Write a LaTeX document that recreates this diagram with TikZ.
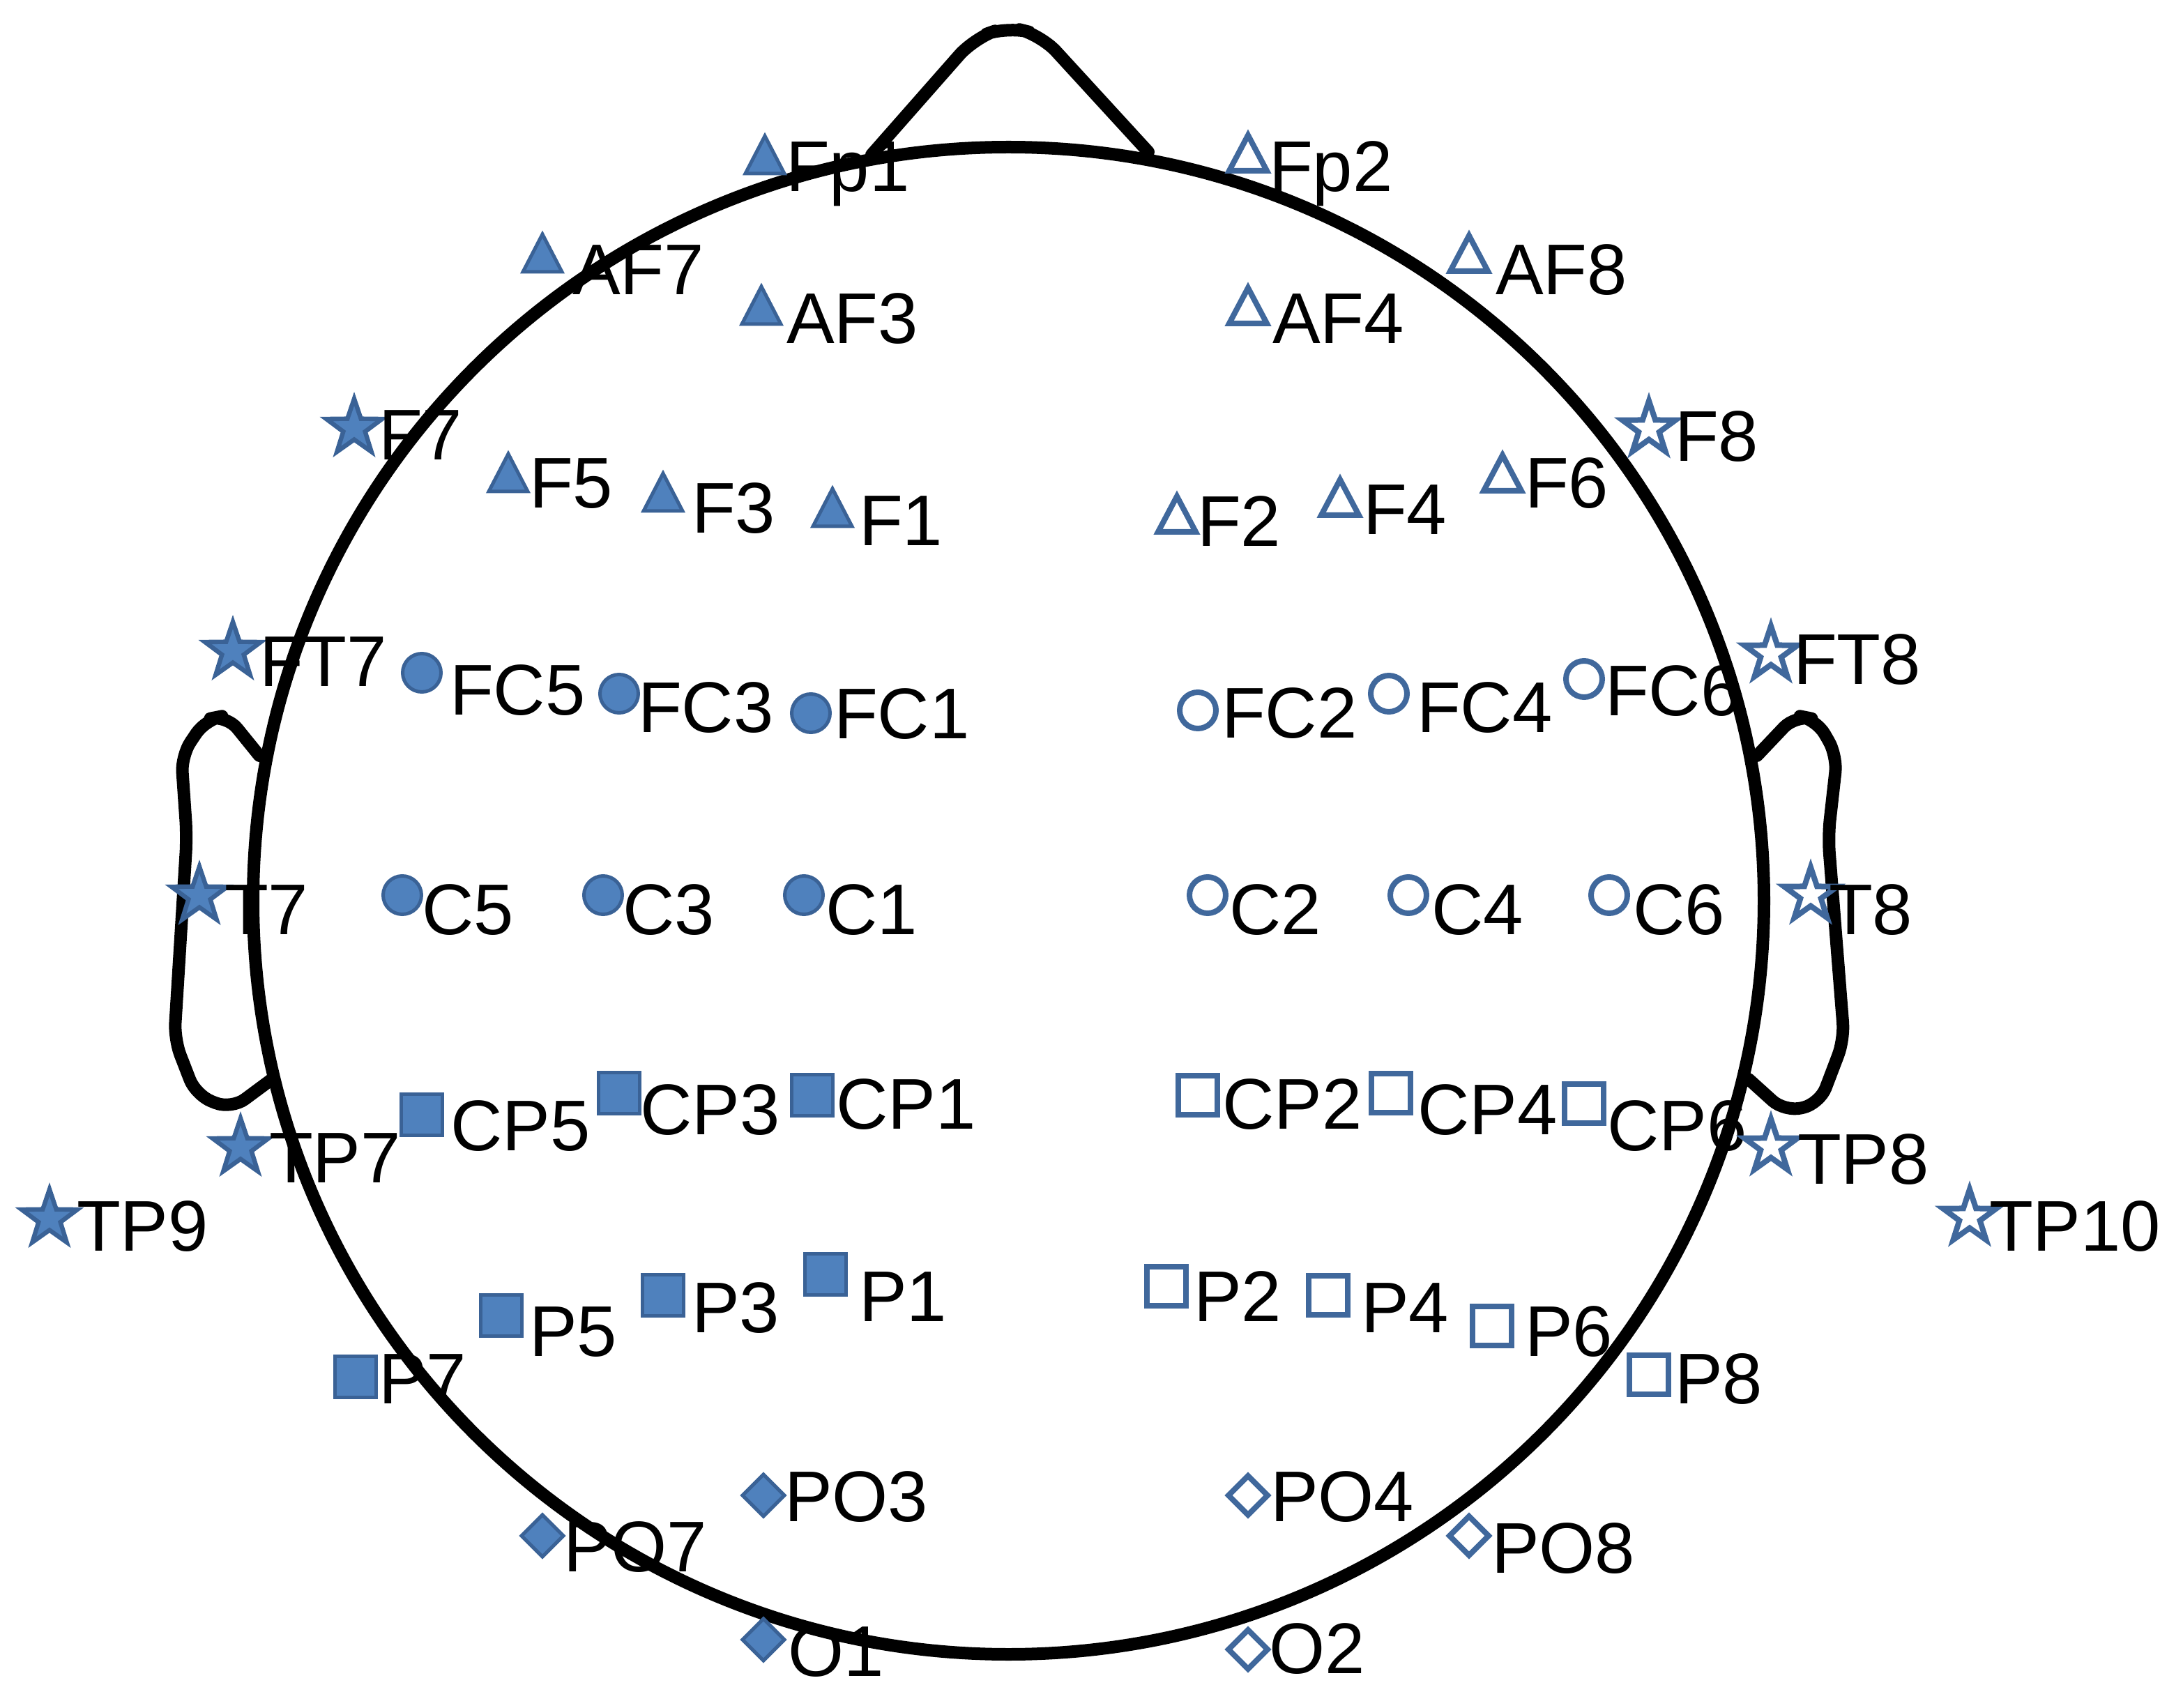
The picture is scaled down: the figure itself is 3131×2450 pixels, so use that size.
\documentclass[tikz,border=0pt]{standalone}
\usepackage{fontspec}
\setmainfont{Liberation Sans}
\definecolor{mkfill}{RGB}{79,129,189}
\definecolor{mkedge}{RGB}{58,98,150}
\definecolor{mkline}{RGB}{64,104,156}
\tikzset{
  head/.style={draw=black,line width=4.5pt,line join=round,line cap=round},
  fil/.style={fill=mkfill,draw=mkedge,line width=1.25pt},
  filstar/.style={fill=mkfill,draw=mkedge,line width=1.6pt,line join=miter},
  opn/.style={draw=mkline,line width=2pt},
  lab/.style={anchor=base west,inner sep=0pt,outer sep=0pt,text=black,
    font=\fontsize{25.75pt}{30pt}\selectfont}
}
\newcommand\mktrif[2]{\draw[fil] (#1,#2-27) -- (#1+28,#2+27) -- (#1-28,#2+27) -- cycle;}
\newcommand\mktrio[2]{\draw[opn] (#1,#2-25) -- (#1+27,#2+26) -- (#1-27,#2+26) -- cycle;}
\newcommand\mkcirf[2]{\draw[fil] (#1,#2) circle[radius=6.875pt];}
\newcommand\mkciro[2]{\draw[opn] (#1,#2) circle[radius=6.5pt];}
\newcommand\mksqrf[2]{\draw[fil] (#1-29.5,#2-29.5) rectangle (#1+29.5,#2+29.5);}
\newcommand\mksqro[2]{\draw[opn] (#1-28,#2-28) rectangle (#1+28,#2+28);}
\newcommand\mkdiaf[2]{\draw[fil] (#1,#2-30) -- (#1+30,#2) -- (#1,#2+30) -- (#1-30,#2) -- cycle;}
\newcommand\mkdiao[2]{\draw[opn] (#1,#2-28) -- (#1+28,#2) -- (#1,#2+28) -- (#1-28,#2) -- cycle;}
\newcommand\mkstar[5]{\draw[#1] (#2,#3) +(-90:#4) -- +(-54:#5) -- +(-18:#4) -- +(18:#5) -- +(54:#4) -- +(90:#5) -- +(126:#4) -- +(162:#5) -- +(198:#4) -- +(234:#5) -- cycle;}
\newcommand\mkstaf[2]{\mkstar{filstar}{#1}{#2}{42}{16.5}}
\newcommand\mkstao[2]{\mkstar{opn}{#1}{#2}{40}{15.5}}
\newcommand\eeg[6]{\csname mk#1\endcsname{#2}{#3}\node[lab] (#4) at (#5,#6) {#4};}
\begin{document}
\begin{tikzpicture}[x=0.25pt,y=-0.25pt]
\useasboundingbox (0,0) rectangle (3131,2450);
% head outline
\draw[head] (1446.5,1292) ellipse[x radius=270.875pt,y radius=270.25pt];
% nose
\draw[head,rounded corners=8pt] (1250,222) -- (1397,55) -- (1445,38) -- (1493,50) -- (1647,218);
% ears
\draw[head,rounded corners=6pt] (372,1084) -- (325,1026) -- (295,1032) -- (260,1084) -- (268,1200) -- (250,1491) -- (281,1571) -- (332,1591) -- (390,1548);
\draw[head,rounded corners=6pt] (2520,1084) -- (2575,1026) -- (2605,1032) -- (2635,1084) -- (2622,1200) -- (2645,1491) -- (2610,1583) -- (2560,1595) -- (2508,1548);
% left hemisphere (filled markers)
\eeg{trif}{1097}{222}{Fp1}{1127}{275}
\eeg{trif}{778}{363}{AF7}{821}{423}
\eeg{trif}{1092}{438}{AF3}{1128}{493}
\eeg{staf}{508}{614}{F7}{543}{660}
\eeg{trif}{729}{678}{F5}{759}{729}
\eeg{trif}{951}{706}{F3}{992}{765}
\eeg{trif}{1194}{728}{F1}{1232}{783}
\eeg{staf}{334}{934}{FT7}{372}{985}
\eeg{cirf}{605}{965}{FC5}{645}{1026}
\eeg{cirf}{888}{995}{FC3}{915}{1050}
\eeg{cirf}{1163}{1023}{FC1}{1196}{1060}
\eeg{staf}{286}{1285}{T7}{322}{1340}
\eeg{cirf}{577}{1284}{C5}{605}{1340}
\eeg{cirf}{865}{1284}{C3}{893}{1340}
\eeg{cirf}{1153}{1284}{C1}{1184}{1340}
\eeg{staf}{345}{1646}{TP7}{386}{1696}
\eeg{staf}{71}{1748}{TP9}{110}{1794}
\eeg{sqrf}{605}{1599}{CP5}{646}{1650}
\eeg{sqrf}{888}{1568}{CP3}{918}{1627}
\eeg{sqrf}{1165}{1571}{CP1}{1199}{1619}
\eeg{sqrf}{719}{1887}{P5}{759}{1945}
\eeg{sqrf}{951}{1858}{P3}{992}{1911}
\eeg{sqrf}{1184}{1828}{P1}{1232}{1895}
\eeg{sqrf}{510}{1975}{P7}{543}{2013}
\eeg{diaf}{1095}{2145}{PO3}{1125}{2182}
\eeg{diaf}{778}{2203}{PO7}{808}{2254}
\eeg{diaf}{1095}{2352}{O1}{1130}{2404}
% right hemisphere (open markers)
\eeg{trio}{1790}{219}{Fp2}{1820}{275}
\eeg{trio}{2107}{363}{AF8}{2145}{423}
\eeg{trio}{1790}{438}{AF4}{1825}{493}
\eeg{stao}{2365}{615}{F8}{2402}{662}
\eeg{trio}{2155}{678}{F6}{2187}{729}
\eeg{trio}{1922}{713}{F4}{1955}{767}
\eeg{trio}{1688}{737}{F2}{1717}{784}
\eeg{stao}{2540}{938}{FT8}{2572}{982}
\eeg{ciro}{2272}{974}{FC6}{2302}{1027}
\eeg{ciro}{1992}{995}{FC4}{2032}{1050}
\eeg{ciro}{1718}{1019}{FC2}{1752}{1059}
\eeg{ciro}{1732}{1284}{C2}{1763}{1340}
\eeg{ciro}{2020}{1284}{C4}{2053}{1340}
\eeg{ciro}{2308}{1284}{C6}{2342}{1340}
\eeg{stao}{2597}{1284}{T8}{2623}{1340}
\eeg{sqro}{1718}{1571}{CP2}{1753}{1619}
\eeg{sqro}{1995}{1568}{CP4}{2033}{1627}
\eeg{sqro}{2272}{1583}{CP6}{2305}{1650}
\eeg{stao}{2540}{1645}{TP8}{2578}{1698}
\eeg{stao}{2825}{1746}{TP10}{2853}{1794}
\eeg{sqro}{1673}{1845}{P2}{1712}{1895}
\eeg{sqro}{1905}{1858}{P4}{1952}{1911}
\eeg{sqro}{2140}{1902}{P6}{2187}{1945}
\eeg{sqro}{2365}{1972}{P8}{2402}{2013}
\eeg{diao}{1790}{2145}{PO4}{1822}{2182}
\eeg{diao}{2107}{2203}{PO8}{2139}{2256}
\eeg{diao}{1790}{2366}{O2}{1820}{2400}
\end{tikzpicture}
\end{document}
